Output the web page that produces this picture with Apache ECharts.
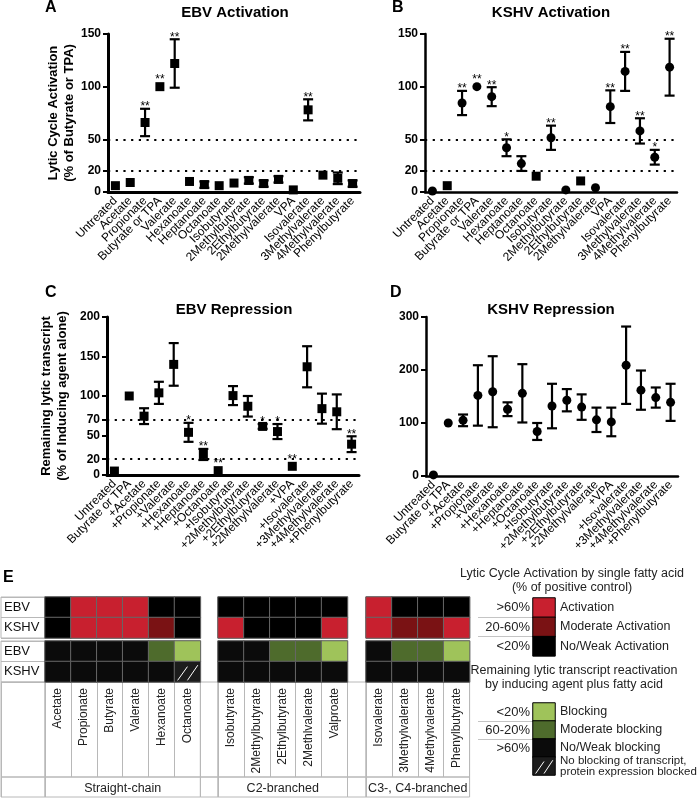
<!DOCTYPE html>
<html><head><meta charset="utf-8">
<script src="https://cdn.jsdelivr.net/npm/echarts@6/dist/echarts.min.js"></script>
<style>html,body{margin:0;padding:0;background:#fff}#chart{width:700px;height:800px}</style>
</head><body><div id="chart"></div>
<script>
// ---------------- DATA ----------------
const catsAct = ['Untreated','Acetate','Propionate','Butyrate or TPA','Valerate','Hexanoate','Heptanoate','Octanoate','Isobutyrate','2Methylbutyrate','2Ethylbutyrate','2Methylvalerate','VPA','Isovalerate','3Methylvalerate','4Methylvalerate','Phenylbutyrate'];
const catsRep = ['Untreated','Butyrate or TPA','+Acetate','+Propionate','+Valerate','+Hexanoate','+Heptanoate','+Octanoate','+Isobutyrate','+2Methylbutyrate','+2Ethylbutyrate','+2Methylvalerate','+VPA','+Isovalerate','+3Methylvalerate','+4Methylvalerate','+Phenylbutyrate'];

const ebvAct    = [6, 9, 66, 100, 122, 10, 7, 6, 8.5, 11, 8, 12, 2, 78, 16, 13, 8];
const ebvActErr = [0, 0, 13, 0, 23, 0, 3, 0, 0, 3, 3, 3, 0, 10, 0, 5.5, 3];
const ebvActSig = ['','','**','**','**','','','','','','','','','**','','',''];

const kshvAct    = [1, 6, 84.5, 100, 90.5, 42, 27, 15, 51.5, 2, 10.5, 4, 81, 114.5, 58, 33, 118.5];
const kshvActErr = [0, 0, 11.5, 0, 9, 8, 7, 0, 11.5, 0, 0, 0, 15.5, 18.5, 12, 7, 27];
const kshvActSig = ['','','**','**','**','*','','','**','','','','**','**','**','*','**'];
const kshvActMarker = ['circle','rect','circle','circle','circle','circle','circle','rect','circle','circle','rect','circle','circle','circle','circle','circle','circle'];

const ebvRep    = [5, 100, 74.5, 104, 140, 54, 26, 5.5, 100.5, 87, 61.5, 55, 11, 137, 84, 80, 39];
const ebvRepErr = [0, 0, 10, 14, 27, 12, 7, 0, 12, 13, 3, 9.5, 0, 26, 19, 22, 10];
const ebvRepSig = ['','','','','','*','**','**','','','*','*','**','','','','**'];

const kshvRep    = [2, 100, 105, 152, 159, 126, 156, 84, 132, 143, 130, 106, 102, 209, 162, 148, 139];
const kshvRepErr = [0, 0, 11, 57, 67, 13, 55, 16, 42, 21, 24, 23, 27, 73, 37, 19, 35];

const ticksAct = [0, 20, 50, 100, 150];
const ticksEbvRep = [0, 20, 50, 70, 100, 150, 200];
const ticksKshvRep = [0, 100, 200, 300];
const refLinesAct = [50, 20];
const refLinesRep = [70, 20];

// Panel E
const heatCols1 = ['Acetate','Propionate','Butyrate','Valerate','Hexanoate','Octanoate'];
const heatCols2 = ['Isobutyrate','2Methylbutyrate','2Ethylbutyrate','2Methlvalerate','Valproate'];
const heatCols3 = ['Isovalerate','3Methylvalerate','4Methylvalerate','Phenylbutyrate'];
const heatGroups = ['Straight-chain','C2-branched','C3-, C4-branched'];
const heatRows = ['EBV','KSHV'];
// activation codes: 0 = no/weak, 1 = moderate, 2 = activation
const actEBV  = [0,2,2,2,0,0, 0,0,0,0,0, 2,0,0,0];
const actKSHV = [0,2,2,2,1,0, 2,0,0,0,2, 2,1,1,2];
// repression codes: 0 = no/weak blocking, 1 = moderate blocking, 2 = blocking, 3 = transcript not blocked, protein blocked
const repEBV  = [0,0,0,0,1,2, 0,0,1,1,2, 0,1,1,2];
const repKSHV = [0,0,0,0,0,3, 0,0,0,0,0, 0,0,0,0];

const legendActTitle = 'Lytic Cycle Activation by single fatty acid\n(% of positive control)';
const legendActRanges = ['>60%','20-60%','<20%'];
const legendActNames = ['Activation','Moderate Activation','No/Weak Activation'];
const legendActCodes = [2,1,0];
const legendRepTitle = 'Remaining lytic transcript reactivation\nby inducing agent plus fatty acid';
const legendRepRanges = ['<20%','60-20%','>60%',''];
const legendRepNames = ['Blocking','Moderate blocking','No/Weak blocking','No blocking of transcript,\nprotein expression blocked'];
const legendRepCodes = [2,1,0,3];

// ---------------- STYLE ----------------
const FONT = "'Liberation Sans', Arial, Helvetica, sans-serif";
const actPalette = ['#000000', '#7a1214', '#c8202f'];
const repPalette = ['#0b0b0b', '#4e6b2c', '#9fc35a', '#1c1c1c'];
const LINE = '#b8b8b8';
const CELLB = '#666';

const grid = [], xAxis = [], yAxis = [], series = [], title = [];
const G = o => { grid.push(Object.assign({outerBoundsMode:'none', containLabel:false}, o)); return grid.length - 1; };
const X = o => { xAxis.push(o); return xAxis.length - 1; };
const Y = o => { yAxis.push(o); return yAxis.length - 1; };

function errSeries(xi, yi, vals, errs, sigs) {
  return {
    type: 'custom', xAxisIndex: xi, yAxisIndex: yi, silent: true, z: 3,
    data: vals.map((v, i) => [i, v]), encode: {x: 0, y: 1},
    renderItem: (params, api) => {
      const i = params.dataIndex, v = vals[i], e = errs[i], s = sigs ? sigs[i] : '';
      const pv = api.coord([i, v]);
      const ch = [];
      let topY = pv[1] - 5;
      if (e > 0) {
        const pt = api.coord([i, v + e]), pb = api.coord([i, v - e]);
        const st = {stroke: '#000', lineWidth: 2.2};
        ch.push({type: 'line', shape: {x1: pt[0], y1: pt[1], x2: pb[0], y2: pb[1]}, style: st});
        ch.push({type: 'line', shape: {x1: pt[0] - 5, y1: pt[1], x2: pt[0] + 5, y2: pt[1]}, style: st});
        ch.push({type: 'line', shape: {x1: pb[0] - 5, y1: pb[1], x2: pb[0] + 5, y2: pb[1]}, style: st});
        topY = pt[1];
      }
      if (s) ch.push({type: 'text', style: {text: s, x: pv[0], y: topY - 2, align: 'center', verticalAlign: 'middle', font: '12px ' + FONT, fill: '#000'}});
      return {type: 'group', children: ch};
    }
  };
}

function plot(o) {
  const gi = G({left: o.left, top: o.top, width: o.width, height: o.height});
  const xi = X({gridIndex: gi, type: 'category', data: o.cats, boundaryGap: true,
    axisLine: {onZero: false, lineStyle: {color: '#000', width: o.lw}},
    axisTick: {alignWithLabel: true, length: 5, lineStyle: {color: '#000', width: 2}},
    axisLabel: {interval: 0, rotate: 45, fontSize: 12, color: '#000', margin: 7, fontFamily: FONT},
    splitLine: {show: false}});
  const yi = Y({gridIndex: gi, type: 'value', min: 0, max: o.max,
    axisLine: {show: true, lineStyle: {color: '#000', width: o.lw}},
    axisTick: {show: true, length: 5, customValues: o.ticks, lineStyle: {color: '#000', width: 2}},
    axisLabel: {customValues: o.ticks, fontSize: 12, fontWeight: 'bold', color: '#000', margin: 7, fontFamily: FONT},
    splitLine: {show: false},
    name: o.yname || '', nameLocation: 'middle', nameGap: o.nameGap || 30,
    nameTextStyle: {fontSize: 13, fontWeight: 'bold', color: '#000', lineHeight: 16, fontFamily: FONT}});
  series.push({
    type: 'scatter', xAxisIndex: xi, yAxisIndex: yi, z: 4, silent: true,
    symbolSize: o.size,
    data: o.vals.map((v, i) => ({value: v, symbol: o.markers ? o.markers[i] : o.symbol})),
    itemStyle: {color: '#000', opacity: 1},
    markLine: o.refs ? {silent: true, symbol: ['none', 'none'], label: {show: false},
      lineStyle: {color: '#000', type: [2.2, 5.5], width: 2.2, opacity: 1},
      emphasis: {disabled: true},
      data: o.refs.map(v => ({yAxis: v}))} : undefined
  });
  series.push(errSeries(xi, yi, o.vals, o.errs, o.sigs));
}

plot({left: 108, top: 34, width: 252, height: 158, cats: catsAct, vals: ebvAct, errs: ebvActErr, sigs: ebvActSig,
  max: 150, ticks: ticksAct, refs: refLinesAct, lw: 3, symbol: 'rect', size: 9,
  yname: 'Lytic Cycle Activation\n(% of Butyrate or TPA)', nameGap: 29});
plot({left: 425, top: 34, width: 252, height: 158, cats: catsAct, vals: kshvAct, errs: kshvActErr, sigs: kshvActSig,
  max: 150, ticks: ticksAct, refs: refLinesAct, lw: 2.5, markers: kshvActMarker, size: 9});
plot({left: 107, top: 317, width: 252, height: 158, cats: catsRep, vals: ebvRep, errs: ebvRepErr, sigs: ebvRepSig,
  max: 200, ticks: ticksEbvRep, refs: refLinesRep, lw: 3, symbol: 'rect', size: 9,
  yname: 'Remaining lytic transcript\n(% of Inducing agent alone)', nameGap: 37});
plot({left: 426, top: 317, width: 252, height: 159, cats: catsRep, vals: kshvRep, errs: kshvRepErr, sigs: null,
  max: 300, ticks: ticksKshvRep, refs: null, lw: 2.5, symbol: 'circle', size: 9});

// ---------------- PANEL E ----------------
const CW = 25.9, RH = 20.5;
const GL = [45, 218, 366];
const T1 = 597, T2 = 641, TN = 682, HN = 95, TG = 777, HG = 20;
const LEFT0 = 1, LEFTW = 44;
const heatCols = [heatCols1, heatCols2, heatCols3];

function splitGroups(arr) { let k = 0; return heatCols.map(c => { const s = arr.slice(k, k + c.length); k += c.length; return s; }); }

function hatchSeries(xi, yi, pts) {
  return {type: 'custom', xAxisIndex: xi, yAxisIndex: yi, silent: true, z: 6, data: pts, encode: {x: 0, y: 1},
    renderItem: (p, api) => {
      const c = api.coord([api.value(0), api.value(1)]);
      const s = api.size([1, 1]);
      const l = c[0] - s[0] / 2, t = c[1] - s[1] / 2, w = s[0], h = s[1];
      const st = {stroke: '#fff', lineWidth: 1};
      return {type: 'group', children: [
        {type: 'line', shape: {x1: l + 0.12 * w, y1: t + 0.92 * h, x2: l + 0.5 * w, y2: t + 0.25 * h}, style: st},
        {type: 'line', shape: {x1: l + 0.5 * w, y1: t + 0.92 * h, x2: l + 0.9 * w, y2: t + 0.18 * h}, style: st}]};
    }};
}

function heatBlock(left, top, cols, rows, codesByRow, palette, showNames, border) {
  const gi = G({left: left, top: top, width: cols.length * CW, height: rows.length * RH, show: true, borderColor: border || CELLB, borderWidth: 1, backgroundColor: 'rgba(0,0,0,0)'});
  const xi = X({gridIndex: gi, type: 'category', data: cols, axisLine: {show: false}, axisTick: {show: false}, splitLine: {show: false},
    axisLabel: showNames ? {interval: 0, rotate: 90, margin: 6, fontSize: 12, color: '#222', fontFamily: FONT} : {show: false}});
  const yi = Y({gridIndex: gi, type: 'category', data: rows, inverse: true, show: false});
  const data = [], hatch = [];
  codesByRow.forEach((codes, r) => codes.forEach((c, j) => {
    data.push({value: [j, r, c], itemStyle: {color: palette[c]}});
    if (palette === repPalette && c === 3) hatch.push([j, r]);
  }));
  series.push({type: 'heatmap', xAxisIndex: xi, yAxisIndex: yi, data: data, silent: true,
    itemStyle: {borderColor: border || CELLB, borderWidth: 1, opacity: 1}, emphasis: {disabled: true}});
  if (hatch.length) series.push(hatchSeries(xi, yi, hatch));
  return {gi, xi, yi};
}

function boxGrid(left, top, width, height, cols, label) {
  const gi = G({left: left, top: top, width: width, height: height, show: true, borderColor: LINE, borderWidth: 1, backgroundColor: 'rgba(0,0,0,0)'});
  X({gridIndex: gi, type: 'category', data: cols, position: 'top', axisLine: {show: false}, axisTick: {show: false},
    axisLabel: label ? {show: true, interval: 0, inside: true, margin: 5, fontSize: 12.5, color: '#222', fontFamily: FONT} : {show: false},
    splitLine: {show: true, interval: 0, lineStyle: {color: LINE, width: 1}}});
  Y({gridIndex: gi, type: 'category', data: [''], show: false});
}

function rowLabelGrid(left, top, width, rows) {
  const gi = G({left: left, top: top, width: width, height: rows.length * RH, show: true, borderColor: LINE, borderWidth: 1, backgroundColor: 'rgba(0,0,0,0)'});
  X({gridIndex: gi, type: 'category', data: [''], show: false});
  Y({gridIndex: gi, type: 'category', data: rows, inverse: true, axisLine: {show: false}, axisTick: {show: false},
    axisLabel: {interval: 0, inside: true, margin: 3, fontSize: 13, color: '#111', fontFamily: FONT},
    splitLine: {show: true, interval: 0, lineStyle: {color: LINE, width: 1}}});
}

const actG = [splitGroups(actEBV), splitGroups(actKSHV)];
const repG = [splitGroups(repEBV), splitGroups(repKSHV)];
heatCols.forEach((cols, g) => {
  const left = GL[g], w = cols.length * CW;
  heatBlock(left, T1, cols, heatRows, [actG[0][g], actG[1][g]], actPalette, false);
  heatBlock(left, T2, cols, heatRows, [repG[0][g], repG[1][g]], repPalette, true);
  boxGrid(left, TN, w, HN, cols, false);
  boxGrid(left, TG, w, HG, [heatGroups[g]], true);
  if (g < heatCols.length - 1) {
    const gl = left + w, gw = GL[g + 1] - gl;
    boxGrid(gl, TN, gw, HN, [''], false);
    boxGrid(gl, TG, gw, HG, [''], false);
  }
});
rowLabelGrid(LEFT0, T1, LEFTW, heatRows);
rowLabelGrid(LEFT0, T2, LEFTW, heatRows);
boxGrid(LEFT0, TN, LEFTW, HN, [''], false);
boxGrid(LEFT0, TG, LEFTW, HG, [''], false);

function legendBlock(top, rowH, ranges, names, codes, palette, sepRows) {
  const gi = G({left: 533, top: top, width: 22, height: ranges.length * rowH});
  const xi = X({gridIndex: gi, type: 'category', data: [''], show: false});
  const yi = Y({gridIndex: gi, type: 'category', data: ranges, inverse: true, position: 'left',
    axisLine: {show: false}, axisTick: {show: false},
    axisLabel: {interval: 0, margin: 3, fontSize: 13, color: '#222', fontFamily: FONT}});
  Y({gridIndex: gi, type: 'category', data: names, inverse: true, position: 'right',
    axisLine: {show: false}, axisTick: {show: false},
    axisLabel: {interval: 0, hideOverlap: false, margin: 5, fontSize: 12.5, color: '#222', fontFamily: FONT,
      formatter: v => v.indexOf('\n') >= 0 ? v.split('\n').map(l => '{s|' + l + '}').join('\n') : v,
      rich: {s: {fontSize: 11.5, lineHeight: 11, color: '#222', fontFamily: FONT}}}});
  const data = codes.map((c, r) => ({value: [0, r, c], itemStyle: {color: palette[c]}}));
  series.push({type: 'heatmap', xAxisIndex: xi, yAxisIndex: yi, data: data, silent: true,
    itemStyle: {borderColor: '#000', borderWidth: 1, opacity: 1}, emphasis: {disabled: true}});
  const hatch = [];
  codes.forEach((c, r) => { if (palette === repPalette && c === 3) hatch.push([0, r]); });
  if (hatch.length) series.push(hatchSeries(xi, yi, hatch));
  // separators
  const sg = G({left: 478, top: top, width: 55, height: sepRows * rowH});
  X({gridIndex: sg, type: 'value', show: false});
  Y({gridIndex: sg, type: 'value', min: 0, max: sepRows, interval: 1, axisLine: {show: false}, axisTick: {show: false}, axisLabel: {show: false},
    splitLine: {show: true, showMinLine: false, showMaxLine: false, lineStyle: {color: '#c4c4c4', width: 1}}});
}
legendBlock(598, 19.3, legendActRanges, legendActNames, legendActCodes, actPalette, 3);
legendBlock(703, 18, legendRepRanges, legendRepNames, legendRepCodes, repPalette, 3);

// ---------------- TITLES ----------------
const letter = (t, l, tp) => ({text: t, left: l, top: tp, padding: 0, textStyle: {fontSize: 16, fontWeight: 'bold', color: '#000', fontFamily: FONT}});
const ptitle = (t, l, tp) => ({text: t, left: l, top: tp, padding: 0, textAlign: 'center', textStyle: {fontSize: 15, fontWeight: 'bold', color: '#000', fontFamily: FONT}});
title.push(letter('A', 45, 0), ptitle('EBV Activation', 235, 5),
  letter('B', 392, 0), ptitle('KSHV Activation', 551, 5),
  letter('C', 45, 285), ptitle('EBV Repression', 234, 302),
  letter('D', 390, 285), ptitle('KSHV Repression', 551, 302),
  letter('E', 3, 570),
  {text: legendActTitle, left: 572, top: 567, padding: 0, textAlign: 'center', textStyle: {fontSize: 12.5, fontWeight: 'normal', color: '#222', lineHeight: 14, fontFamily: FONT}},
  {text: legendRepTitle, left: 574, top: 664, padding: 0, textAlign: 'center', textStyle: {fontSize: 12.5, fontWeight: 'normal', color: '#222', lineHeight: 14, fontFamily: FONT}});

const chart = echarts.init(document.getElementById('chart'));
chart.setOption({animation: false, backgroundColor: '#fff', textStyle: {fontFamily: FONT}, title, grid, xAxis, yAxis, series});
</script></body></html>
